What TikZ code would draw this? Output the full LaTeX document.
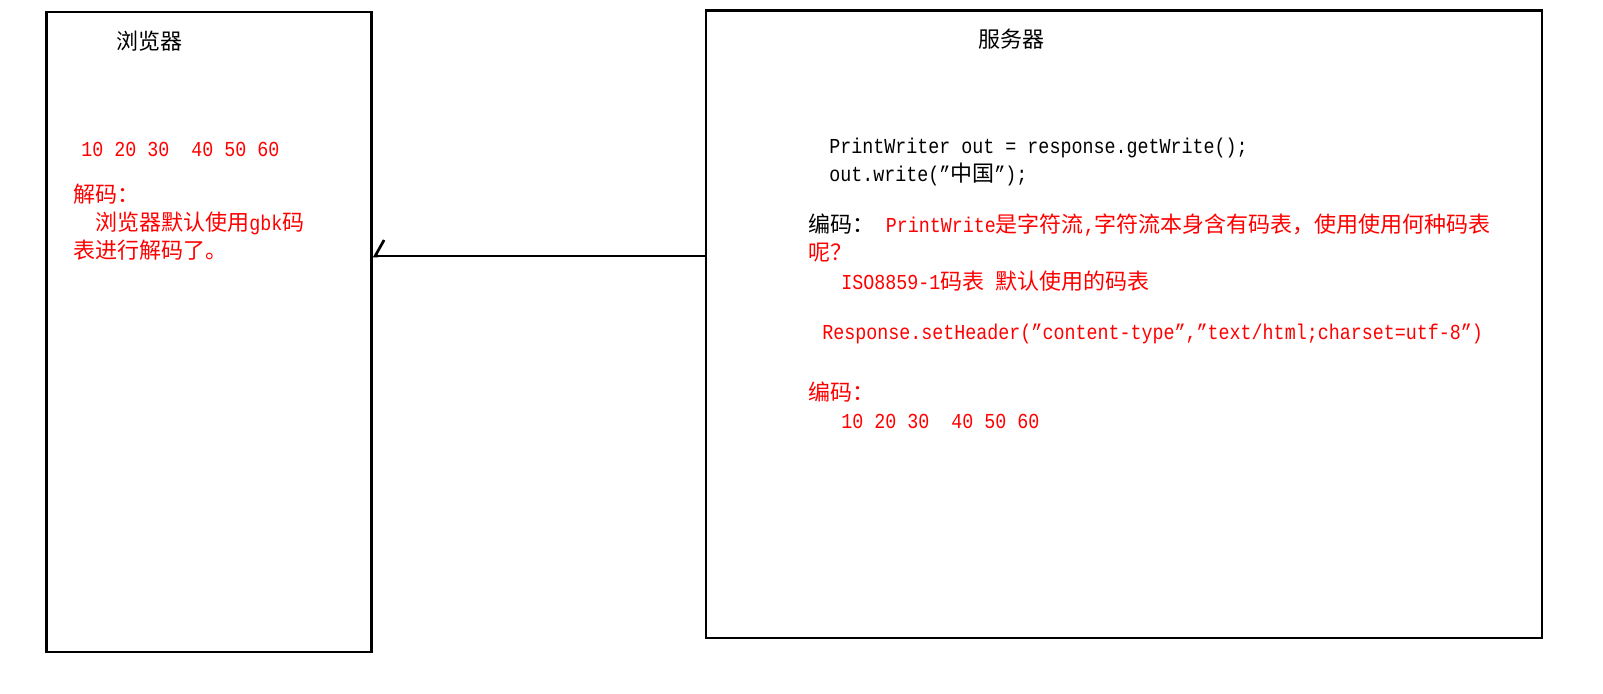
\documentclass[tikz,border=0pt]{standalone}
\usepackage{fontspec}
\setmainfont{Liberation Mono}[Scale=0.97, FakeStretch=0.86]
\newfontfamily\cjkfont{Noto Sans CJK SC}
\newcommand{\zh}[1]{{\cjkfont #1}}
\usetikzlibrary{arrows.meta, positioning}

\tikzset{
    box/.style={draw, line width=2pt, inner sep=0pt},
    txt/.style={anchor=base west, inner sep=0pt, font=\fontsize{16.5}{22}\selectfont},
    note/.style={txt, text=red},
    link/.style={line width=2pt, -{Straight Barb[harpoon, swap, length=6.75pt, width=24pt]}}
}

\begin{document}
\begin{tikzpicture}[x=0.75pt, y=-0.75pt]
    \useasboundingbox (0,0) rectangle (1603,693);
    % the two boxes
    \node[box, minimum width=243.75pt, minimum height=480pt] (browser) at (209,332) {};
    \node[box, minimum width=627pt, minimum height=470.6pt] (server) at (1124,324.25) {};

    % browser side
    \node[txt] (btitle) at (116,49) {\zh{浏览器}};
    \node[note] (bbytes) at (81,156) {10 20 30 \ 40 50 60};
    \node[note] (bdec1) at (73,202) {\zh{解码：}};
    \node[note] (bdec2) at (95,230) {\zh{浏览器默认使用}gbk\zh{码}};
    \node[note] (bdec3) at (73,258) {\zh{表进行解码了。}};

    % server side
    \node[txt] (stitle) at (978,47) {\zh{服务器}};
    \node[txt] (code1) at (829,153) {PrintWriter out = response.getWrite();};
    \node[txt] (code2) at (829,181) {out.write("\zh{中国}");};
    \node[txt] (enc1) at (808,232) {\zh{编码：}};
    \node[note, right=0pt of enc1.base east, anchor=base west] (enc1b) {\ PrintWrite\zh{是字符流},\zh{字符流本身含有码表，使用使用何种码表}};
    \node[note] (enc2) at (808,260) {\zh{呢？}};
    \node[note] (enc3) at (841,289) {ISO8859-1\zh{码表} \zh{默认使用的码表}};
    \node[note] (hdr) at (822,339) {Response.setHeader("content-type","text/html;charset=utf-8")};
    \node[note] (enc4) at (808,400) {\zh{编码：}};
    \node[note] (sbytes) at (841,428) {10 20 30 \ 40 50 60};

    % response line
    \coordinate (lvl) at (0,256);
    \draw[link] (server.west |- lvl) -- (browser.east |- lvl);
\end{tikzpicture}
\end{document}
